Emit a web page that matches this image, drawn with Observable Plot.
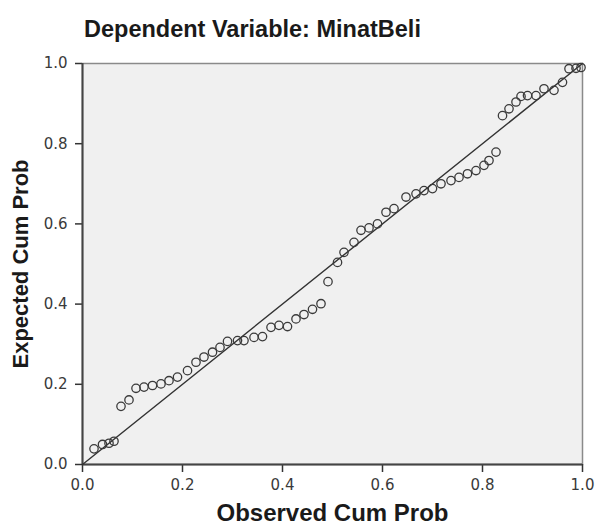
<!DOCTYPE html>
<html>
<head>
<meta charset="utf-8">
<script src="https://cdn.jsdelivr.net/npm/d3@7"></script>
<script src="https://cdn.jsdelivr.net/npm/@observablehq/plot@0.6"></script>
<style>
  html, body { margin: 0; padding: 0; background: #ffffff; }
  #wrap { width: 595px; height: 527px; position: relative; overflow: hidden; }
  #title { position: absolute; left: 84px; top: 15px; font: bold 23.5px "Liberation Sans", Arial, sans-serif; color: #1a1a1a; line-height: 28px; white-space: nowrap; }
  #chart { position: absolute; left: 0; top: 50px; }
</style>
</head>
<body>
<div id="wrap">
  <div id="title">Dependent Variable: MinatBeli</div>
  <div id="chart"></div>
</div>
<script>
// Observed cumulative probability (x) and expected cumulative probability (y)
const observedCumProb = [0.023,0.040,0.053,0.063,0.077,0.093,0.107,0.123,0.140,0.157,0.173,0.190,0.210,0.227,0.243,0.260,0.275,0.290,0.310,0.323,0.343,0.360,0.377,0.393,0.410,0.427,0.443,0.460,0.477,0.491,0.510,0.523,0.543,0.557,0.573,0.590,0.607,0.623,0.647,0.667,0.683,0.700,0.717,0.737,0.753,0.770,0.787,0.803,0.813,0.827,0.840,0.853,0.867,0.877,0.890,0.907,0.923,0.943,0.960,0.973,0.987,0.997];
const expectedCumProb = [0.039,0.050,0.053,0.058,0.145,0.161,0.190,0.193,0.197,0.201,0.209,0.218,0.234,0.255,0.268,0.280,0.292,0.307,0.309,0.309,0.317,0.319,0.342,0.347,0.344,0.363,0.374,0.387,0.401,0.456,0.504,0.529,0.554,0.584,0.590,0.600,0.629,0.638,0.667,0.675,0.683,0.688,0.700,0.708,0.716,0.725,0.733,0.746,0.758,0.779,0.870,0.887,0.904,0.918,0.920,0.920,0.937,0.933,0.953,0.987,0.988,0.990];
const tickValues = [0, 0.2, 0.4, 0.6, 0.8, 1.0];
const diagonalX = [0, 1];
const diagonalY = [0, 1];
const xLabel = "Observed Cum Prob";
const yLabel = "Expected Cum Prob";

const points = observedCumProb.map((x, i) => ({x, y: expectedCumProb[i]}));
const diagonal = diagonalX.map((x, i) => ({x, y: diagonalY[i]}));

const chart = Plot.plot({
  width: 595,
  height: 477,
  marginLeft: 82,
  marginRight: 13,
  marginTop: 13,
  marginBottom: 63,
  x: {domain: [0, 1]},
  y: {domain: [0, 1]},
  style: {fontFamily: "DejaVu Sans", fontSize: "15px", color: "#3a3a3a", background: "transparent", overflow: "visible"},
  marks: [
    Plot.frame({fill: "#f0f0f0", stroke: "#8a8a8a", strokeWidth: 1.5}),
    Plot.axisX({ticks: tickValues, tickFormat: d => d.toFixed(1), tickSize: 8, tickPadding: 7, label: null, stroke: "#333", strokeWidth: 1.5}),
    Plot.axisY({ticks: tickValues, tickFormat: d => d.toFixed(1), tickSize: 7, tickPadding: 8, label: null, stroke: "#333", strokeWidth: 1.5}),
    Plot.ruleX([0], {stroke: "#444", strokeWidth: 2}),
    Plot.ruleY([0], {stroke: "#444", strokeWidth: 2}),
    Plot.line(diagonal, {x: "x", y: "y", stroke: "#333", strokeWidth: 1.4}),
    Plot.dot(points, {x: "x", y: "y", r: 4.2, stroke: "#3a3a3a", strokeWidth: 1.3, fill: "none"}),
    Plot.text([xLabel], {frameAnchor: "bottom", dy: 49, text: d => d, fontSize: 24, fontWeight: "bold", fontFamily: "Liberation Sans", fill: "#1a1a1a", lineAnchor: "middle", textAnchor: "middle"}),
    Plot.text([yLabel], {frameAnchor: "left", dx: -62, rotate: -90, text: d => d, fontSize: 22, fontWeight: "bold", fontFamily: "Liberation Sans", fill: "#1a1a1a", lineAnchor: "middle", textAnchor: "middle"})
  ]
});
document.getElementById("chart").appendChild(chart);
</script>
</body>
</html>
